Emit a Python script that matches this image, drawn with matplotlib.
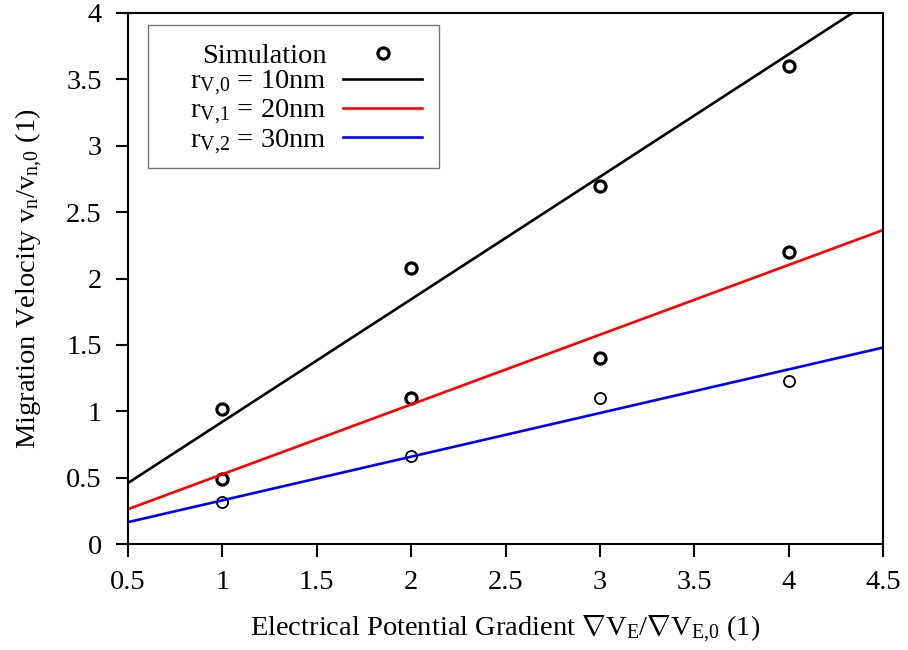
import matplotlib
matplotlib.use('Agg')
import matplotlib.pyplot as plt
from matplotlib.patches import Rectangle

plt.rcParams['font.family'] = ['Liberation Serif', 'DejaVu Serif']
plt.rcParams['mathtext.fontset'] = 'custom'
plt.rcParams['mathtext.rm'] = 'Liberation Serif'
plt.rcParams['mathtext.it'] = 'Liberation Serif:italic'

# simulation results
sim_x = [1, 2, 3, 4]
sim_r10 = [1.02, 2.08, 2.70, 3.60]
sim_r20 = [0.49, 1.10, 1.40, 2.20]
sim_r30 = [0.32, 0.66, 1.10, 1.23]

# theory lines (end points)
line_x = [0.5, 4.5]
line_r10 = [0.46, 4.15]
line_r20 = [0.263, 2.365]
line_r30 = [0.165, 1.48]

xticks = [0.5, 1, 1.5, 2, 2.5, 3, 3.5, 4, 4.5]
xticklabels = ['0.5', '1', '1.5', '2', '2.5', '3', '3.5', '4', '4.5']
yticks = [0, 0.5, 1, 1.5, 2, 2.5, 3, 3.5, 4]
yticklabels = ['0', '0.5', '1', '1.5', '2', '2.5', '3', '3.5', '4']

fs = 20.5

fig = plt.figure(figsize=(9.08, 6.5), dpi=100)
ax = fig.add_axes([0.141, 0.163, 0.8315, 0.817])

circ = dict(ls='none', marker='o', mfc='none', mec='black', ms=8)
ax.plot(sim_x, sim_r10, mew=2.3, label='Simulation', **circ)
ax.plot(sim_x, sim_r20, mew=2.3, **circ)
ax.plot(sim_x, sim_r30, mew=1.3, **circ)

ax.plot(line_x, line_r10, c='black', lw=1.9, label=r'r$_{\mathrm{V{,}0}}$ = 10nm')
ax.plot(line_x, line_r20, c='red', lw=1.9, label=r'r$_{\mathrm{V{,}1}}$ = 20nm')
ax.plot(line_x, line_r30, c='blue', lw=1.9, label=r'r$_{\mathrm{V{,}2}}$ = 30nm')

ax.set_xlim(0.5, 4.5)
ax.set_ylim(0, 4)
ax.set_xticks(xticks)
ax.set_xticklabels(xticklabels)
ax.set_yticks(yticks)
ax.set_yticklabels(yticklabels)
ax.tick_params(direction='out', length=9, width=1.5, labelsize=fs, pad=10,
               top=False, right=False)
for s in ax.spines.values():
    s.set_linewidth(1.5)

ax.set_xlabel(r'Electrical Potential Gradient $\nabla$V$_{\mathrm{E}}$/$\nabla$V$_{\mathrm{E{,}0}}$ (1)',
              fontsize=fs, labelpad=13)
ax.set_ylabel(r'Migration Velocity v$_{\mathrm{n}}$/v$_{\mathrm{n{,}0}}$ (1)',
              fontsize=fs, labelpad=15)

leg = ax.legend(loc='upper right', bbox_to_anchor=(0.389, 0.944), borderaxespad=0,
                markerfirst=False, fontsize=fs, frameon=False, handlelength=2.75,
                labelspacing=0.0, borderpad=0.0, handletextpad=0.6, numpoints=1)
# gnuplot style key box
ax.add_patch(Rectangle((0.0265, 0.708), 0.3855, 0.2694, transform=ax.transAxes,
                       fill=False, ec='#777777', lw=1.0, zorder=5))

fig.savefig('out.png', dpi=100)
